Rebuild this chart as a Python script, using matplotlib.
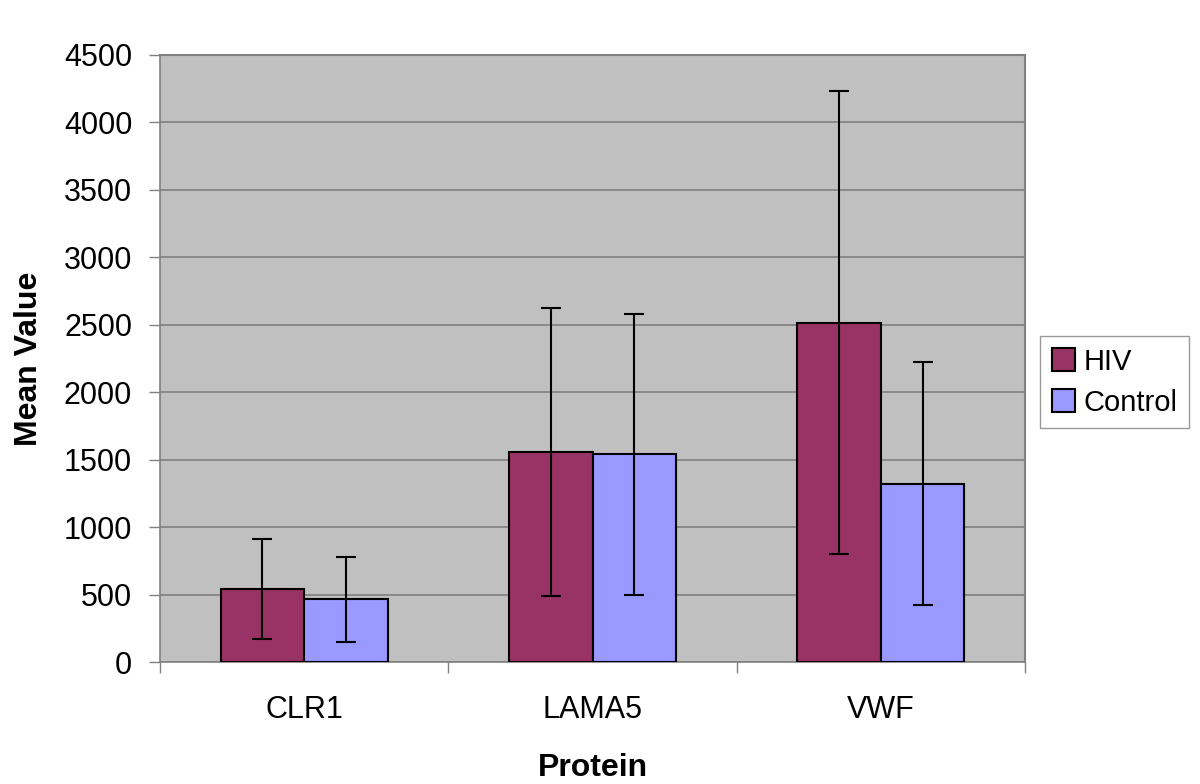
import matplotlib
matplotlib.use("Agg")
import matplotlib.pyplot as plt
import numpy as np

plt.rcParams['font.family'] = ['Liberation Sans', 'DejaVu Sans']

categories = ["CLR1", "LAMA5", "VWF"]
hiv_mean = [540, 1555, 2515]
hiv_err = [370, 1068, 1715]
ctrl_mean = [465, 1540, 1322]
ctrl_err = [317, 1040, 900]
series_names = ["HIV", "Control"]
yticks = [0, 500, 1000, 1500, 2000, 2500, 3000, 3500, 4000, 4500]

fig = plt.figure(figsize=(12, 7.84), dpi=100)
ax = fig.add_axes([160/1200, 1-662/784, 865/1200, 607/784])
ax.set_facecolor('#C0C0C0')

x = np.arange(len(categories))
w = 0.29
ekw = dict(elinewidth=1.5, capthick=1.5, ecolor='black', capsize=7)
b1 = ax.bar(x - w/2, hiv_mean, w, yerr=hiv_err, color='#993366', edgecolor='black',
            linewidth=1.5, error_kw=ekw, label=series_names[0], zorder=3)
b2 = ax.bar(x + w/2, ctrl_mean, w, yerr=ctrl_err, color='#9999FF', edgecolor='black',
            linewidth=1.5, error_kw=ekw, label=series_names[1], zorder=3)

ax.set_xlim(-0.5, len(categories) - 0.5)
ax.set_ylim(0, 4500)
ax.set_yticks(yticks)
ax.set_yticklabels([str(v) for v in yticks], fontsize=22)
ax.yaxis.grid(True, color='#808080', linewidth=1.2, zorder=0)
ax.set_axisbelow(True)

ax.set_xticks(x)
ax.set_xticklabels(categories, fontsize=22)
ax.tick_params(axis='x', length=0, pad=24)
ax.set_xticks(np.arange(len(categories) + 1) - 0.5, minor=True)
ax.tick_params(axis='x', which='minor', length=8, width=1, color='#808080', direction='out')
ax.tick_params(axis='y', length=8, width=1, color='#808080', direction='out', pad=12)

for s in ['top', 'right']:
    ax.spines[s].set_color('#808080')
    ax.spines[s].set_linewidth(1.5)
ax.spines['left'].set_color('#808080')
ax.spines['bottom'].set_color('#808080')
ax.spines['left'].set_linewidth(1.2)
ax.spines['bottom'].set_linewidth(1.2)

ax.set_ylabel("Mean Value", fontsize=23, fontweight='bold', labelpad=14)
ax.set_xlabel("Protein", fontsize=23, fontweight='bold', labelpad=20)

leg = fig.legend(handles=[b1, b2], labels=series_names, loc='upper left',
                 bbox_to_anchor=(1040/1200, 1-336/784), fontsize=21,
                 frameon=True, fancybox=False, edgecolor='#808080',
                 handlelength=0.8, handleheight=0.8, handletextpad=0.3,
                 borderpad=0.4, labelspacing=0.45, borderaxespad=0)
leg.get_frame().set_linewidth(1)

fig.savefig("out.png", dpi=100, facecolor='white')
